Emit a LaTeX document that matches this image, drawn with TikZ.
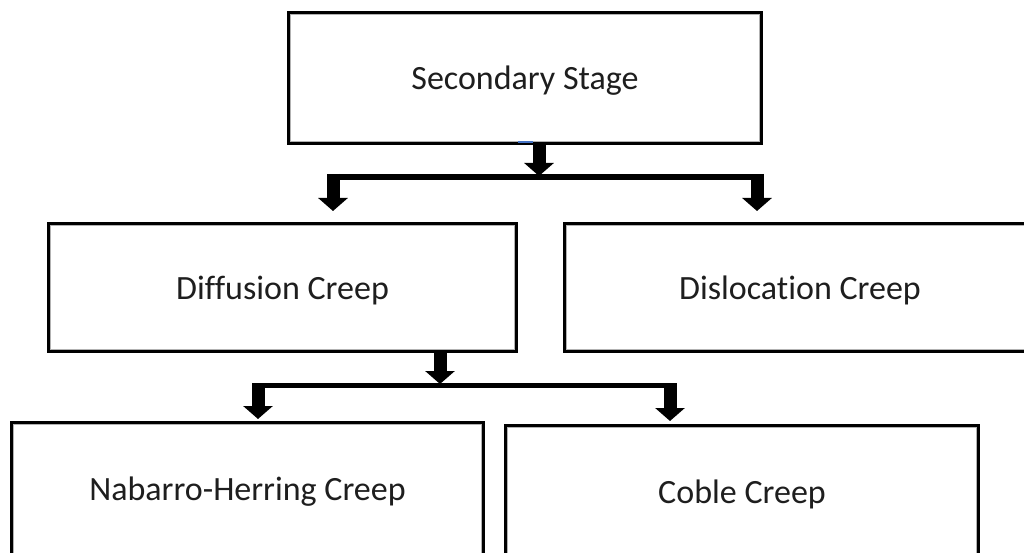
\documentclass[tikz,border=0pt]{standalone}
\usepackage{fontspec}
\setmainfont[Ligatures=NoCommon]{Carlito}
\usetikzlibrary{arrows.meta}
\definecolor{txt}{RGB}{30,30,30}
\definecolor{selmark}{RGB}{68,114,196}
\begin{document}
\begin{tikzpicture}[x=1pt,y=-1pt,
  box/.style={draw=black, line width=4pt, fill=white, inner sep=0pt,
    text=txt, text depth=0pt, font=\fontsize{34}{40}\selectfont},
  inset/.style={draw=black!30, line width=1.5pt},
  stem/.style={draw=black, line width=13pt,
    -{Triangle[width=29pt,length=13pt]}},
  bar/.style={draw=black, line width=6pt}]
  \useasboundingbox (0,0) rectangle (1024,553);
  \clip (0,0) rectangle (1024,553);
  \fill[white] (0,0) rectangle (1024,553);

  % boxes
  \node[box, minimum width=472pt, minimum height=130pt] (sec)  at (525,78)    {Secondary Stage};
  \node[box, minimum width=467pt, minimum height=127pt] (diff) at (282.5,287.5) {Diffusion Creep};
  \node[box, minimum width=470pt, minimum height=127pt] (disl) at (800,287.5) {Dislocation Creep};
  \node[box, minimum width=471pt, minimum height=132pt] (nab)  at (247.5,489) {Nabarro-Herring Creep};
  \node[box, minimum width=472pt, minimum height=132pt] (cob)  at (742,492)   {Coble Creep};

  % light inner edge of each box
  \foreach \n in {sec,diff,disl,nab,cob}
    \draw[inset] ([shift={(3.5,3.5)}]\n.north west) rectangle ([shift={(-3.5,-3.5)}]\n.south east);

  \draw[selmark, line width=2pt] (518,142.5) -- (533,142.5);

  % first branching
  \coordinate (j1)  at (539,176);
  \coordinate (bl1) at (333,174);
  \coordinate (br1) at (757,174);
  \draw[bar] (333,177) -- (757,177);
  \draw[stem] (sec.south -| j1) -- (j1);
  \draw[stem, shorten >=11pt] (bl1) -- (bl1 |- diff.north);
  \draw[stem, shorten >=11pt] (br1) -- (br1 |- disl.north);

  % second branching
  \coordinate (j2)  at (440,384);
  \coordinate (bl2) at (258,383);
  \coordinate (br2) at (670,383);
  \draw[bar, line width=5.5pt] (258,385.5) -- (670,385.5);
  \draw[stem] (diff.south -| j2) -- (j2);
  \draw[stem, shorten >=2pt] (bl2) -- (bl2 |- nab.north);
  \draw[stem, shorten >=3pt] (br2) -- (br2 |- cob.north);
\end{tikzpicture}
\end{document}
